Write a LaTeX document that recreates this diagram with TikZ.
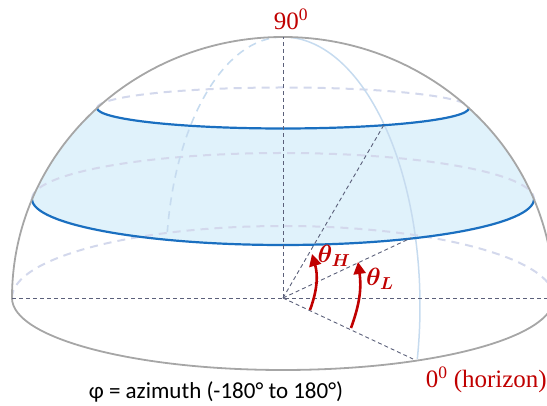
\documentclass[tikz,border=0pt]{standalone}
\usepackage{fontspec}
\usepackage{amsmath,bm}
\newfontfamily\carlito{Carlito}
\newfontfamily\redserif{Liberation Serif}
\usetikzlibrary{arrows.meta}
\definecolor{outl}{HTML}{A6A6A6}
\definecolor{bandblue}{HTML}{1A6FC0}
\definecolor{bandfill}{HTML}{E0F2FB}
\definecolor{lav}{HTML}{D3D8EC}
\definecolor{merid}{HTML}{C6DBEF}
\definecolor{darkdash}{HTML}{5B607A}
\definecolor{myred}{HTML}{C00000}
\tikzset{
  outline/.style={draw=outl, line width=1.8pt},
  latline/.style={draw=bandblue, line width=2.2pt},
  backline/.style={draw=lav, line width=2pt, dash pattern=on 8pt off 6pt},
  meridline/.style={draw=merid, line width=1.5pt},
  meriddash/.style={draw=merid, line width=1.6pt, dash pattern=on 8pt off 6pt},
  guide/.style={draw=darkdash, line width=0.9pt, dash pattern=on 4pt off 3pt},
  anglearrow/.style={draw=myred, line width=2.6pt, -{Triangle[length=12pt,width=12pt]}},
  redlabel/.style={text=myred, font=\redserif\fontsize{25}{29}\selectfont, inner sep=0pt},
  thetalabel/.style={text=myred, font=\fontsize{23}{27}\selectfont\boldmath, inner sep=0pt},
}
\begin{document}
\begin{tikzpicture}[x=1pt,y=1pt]
\useasboundingbox (0,0) rectangle (547,406);
\clip (0,0) rectangle (547,406);
% key points
\coordinate (C) at (283,108);
\coordinate (top) at (283,369);
\coordinate (west) at (12,108);
\coordinate (east) at (547,108);
\coordinate (pH) at (385,283);
\coordinate (pL) at (411,168);
\coordinate (p0) at (413,47);
% band fill
\fill[bandfill] (97,298) arc[start angle=180, end angle=360, x radius=186, y radius=20.5]
  arc[start angle=46.7, end angle=22.3, x radius=271, y radius=261]
  arc[start angle=0, end angle=-180, x radius=251, y radius=46]
  arc[start angle=157.7, end angle=133.3, x radius=271, y radius=261] -- cycle;
% back (hidden) latitude arcs
\draw[backline] (97,298) arc[start angle=180, end angle=0, x radius=186, y radius=20.5];
\draw[backline] (32,207) arc[start angle=180, end angle=0, x radius=251, y radius=46];
\draw[backline] (12,108) arc[start angle=180, end angle=0, x radius=271, y radius=72];
% meridians
\draw[meriddash] (top) arc[start angle=90, end angle=171.5, x radius=117, y radius=229];
\draw[meridline] (top) arc[start angle=90, end angle=-11.4, x radius=137, y radius=269];
% band boundaries (front)
\draw[latline] (97,298) arc[start angle=180, end angle=360, x radius=186, y radius=20.5];
\draw[latline] (32,207) arc[start angle=180, end angle=360, x radius=251, y radius=46];
% outline
\draw[outline] (12,108) arc[start angle=180, end angle=0, x radius=271, y radius=261]
  arc[start angle=0, end angle=-180, x radius=271, y radius=72] -- cycle;
% guide lines
\draw[guide] (C) -- (top);
\draw[guide] (west) -- (east);
\draw[guide] (C) -- (pH);
\draw[guide] (C) -- (pL);
\draw[guide] (C) -- (p0);
% angle arrows
\coordinate (aH1) at (310,96);
\coordinate (aH2) at (312,152);
\coordinate (aL1) at (351,78);
\coordinate (aL2) at (358,144);
\draw[anglearrow] (aH1) to[bend right=18] (aH2);
\draw[anglearrow] (aL1) to[bend right=14] (aL2);
% labels
\node[thetalabel] (tH) at (334,150) {$\theta_H$};
\node[thetalabel] (tL) at (380,127) {$\theta_L$};
\node[redlabel] (n90) at (291,387) {90\textsuperscript{0}};
\node[redlabel, anchor=east] (n0) at (547,26) {0\textsuperscript{0} (horizon)};
\node[font=\carlito\fontsize{23}{27}\selectfont, inner sep=0pt] (phi) at (216,14) {φ = azimuth (-180° to 180°)};
\end{tikzpicture}
\end{document}
